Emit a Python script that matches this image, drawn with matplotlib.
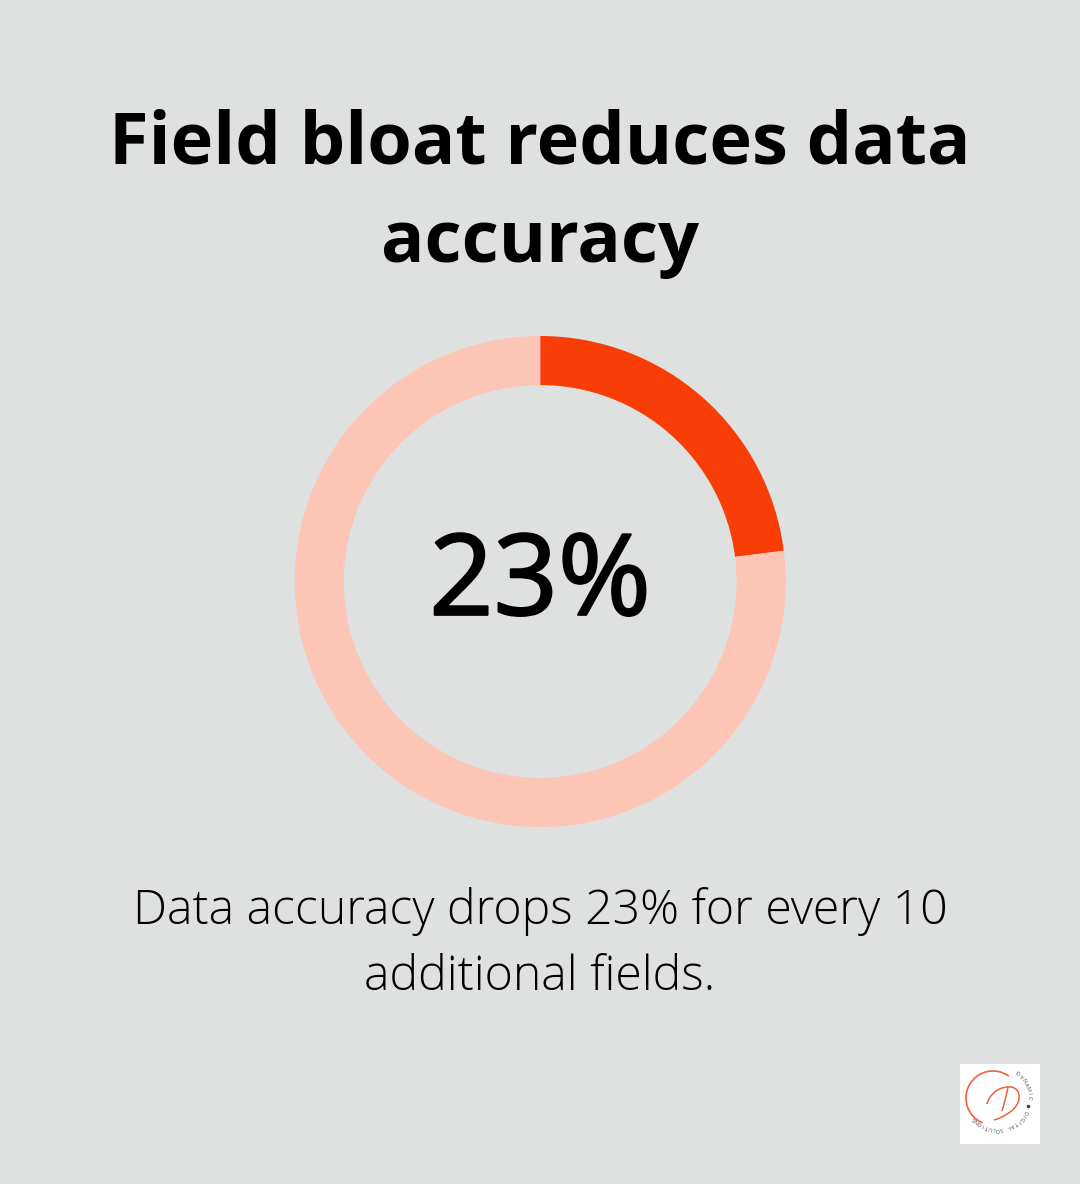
import numpy as np
import matplotlib
matplotlib.use('Agg')
import matplotlib.pyplot as plt
import matplotlib.patheffects as pe
from matplotlib.patches import Arc, PathPatch, Rectangle
from matplotlib.path import Path

plt.rcParams['font.family'] = ['Open Sans', 'DejaVu Sans']

title_lines = ['Field bloat reduces data', 'accuracy']
center_label = '23%'
caption_lines = ['Data accuracy drops 23% for every 10', 'additional fields.']
logo_top = 'DYNAMIC'
logo_bottom = 'DIGITAL SOLUTIONS'
values = [23, 77]
colors = ['#f93d06', '#fcc5b5']
bg = '#dfe1e0'
logo_red = '#f0603a'
logo_ink = '#444444'

W, H = 1080, 1184
fig = plt.figure(figsize=(W/100, H/100), dpi=100, facecolor=bg)
ax = fig.add_axes([0, 0, 1, 1])
ax.set_xlim(0, W)
ax.set_ylim(H, 0)
ax.axis('off')

# donut, clockwise from the top
pie_ax = fig.add_axes([294.7/W, 1-827/H, 491/W, 491/H])
pie_ax.pie(values, colors=colors, startangle=90, counterclock=False, radius=1.0,
           wedgeprops=dict(width=0.2, linewidth=0))
pie_ax.set_xlim(-1, 1)
pie_ax.set_ylim(-1, 1)
pie_ax.axis('off')

ax.text(540, 145, title_lines[0], fontsize=51.95, fontweight='bold', ha='center', va='center', color='#000000')
ax.text(540, 243, title_lines[1], fontsize=51.95, fontweight='bold', ha='center', va='center', color='#000000')
# the installed regular is thinner than the reference, so thicken it a little
ax.text(540, 585, center_label, fontsize=81, ha='center', va='center', color='#000000',
        path_effects=[pe.withStroke(linewidth=1.6, foreground='#000000')])
ax.text(540, 912, caption_lines[0], fontsize=34.75, fontweight='light', ha='center', va='center', color='#000000')
ax.text(540, 978, caption_lines[1], fontsize=34.75, fontweight='light', ha='center', va='center', color='#000000')

# logo
ax.add_patch(Rectangle((960, 1064), 80, 80, facecolor='white', edgecolor='none'))
ax.add_patch(Arc((993, 1098), 54, 54, theta1=113, theta2=306, color=logo_red, linewidth=1.2))
script = Path([(987, 1104), (990, 1092), (1002, 1086), (1011, 1087),
               (1023, 1089), (1021, 1105), (1010, 1112),
               (1003, 1117), (998, 1119), (994, 1120),
               (1008, 1087), (1006, 1098), (1002, 1111)],
              [Path.MOVETO, Path.CURVE4, Path.CURVE4, Path.CURVE4,
               Path.CURVE4, Path.CURVE4, Path.CURVE4,
               Path.CURVE4, Path.CURVE4, Path.CURVE4,
               Path.MOVETO, Path.CURVE3, Path.CURVE3])
ax.add_patch(PathPatch(script, facecolor='none', edgecolor=logo_red, linewidth=1.1))


def ring_text(s, start, step):
    # one letter at a time, clockwise round the logo (angles from the top)
    for i, ch in enumerate(s):
        a = np.radians(start + i*step)
        ax.text(998 + 31*np.sin(a), 1098 - 31*np.cos(a), ch, fontsize=3.9, color=logo_ink,
                ha='center', va='center', rotation=-np.degrees(a))


ring_text(logo_top, 38, 8.7)
ax.plot([998 + 31*np.sin(np.radians(105))], [1098 - 31*np.cos(np.radians(105))], 'o', ms=1.6, color=logo_ink)
ring_text(logo_bottom, 118, 6.9)

fig.savefig('out.png', dpi=100, facecolor=bg)
